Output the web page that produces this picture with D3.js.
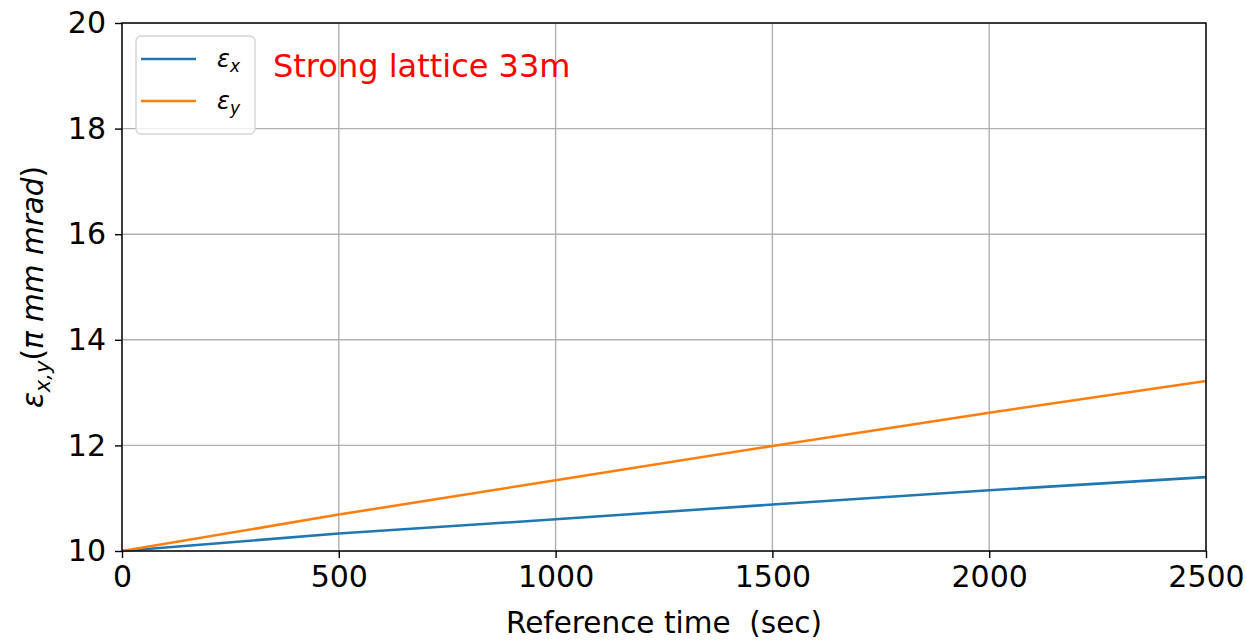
<!DOCTYPE html>
<html>
<head>
<meta charset="utf-8">
<script src="https://cdn.jsdelivr.net/npm/d3@7"></script>
<style>
  html, body { margin: 0; padding: 0; background: #fff; }
  svg { display: block; font-family: "DejaVu Sans", sans-serif; }
</style>
</head>
<body>
<svg id="chart" width="1246" height="642"></svg>
<script>
// Emittance growth over reference time
const times = [0, 500, 1000, 1500, 2000, 2500];
const epsX  = [10.0, 10.33, 10.60, 10.88, 11.15, 11.40];
const epsY  = [10.0, 10.69, 11.34, 11.99, 12.62, 13.22];
const xTicks = [0, 500, 1000, 1500, 2000, 2500];
const yTicks = [10, 12, 14, 16, 18, 20];
const seriesNames = ["x", "y"];
const seriesColors = ["#1f77b4", "#ff7f0e"];
const annotation = "Strong lattice 33m";

const margin = { left: 122, right: 40, top: 23, bottom: 91 };
const W = 1246, H = 642;
const svg = d3.select("#chart");

const x = d3.scaleLinear().domain([0, 2500]).range([margin.left, W - margin.right]);
const y = d3.scaleLinear().domain([10, 20]).range([H - margin.bottom, margin.top]);

// grid
const grid = svg.append("g");
grid.selectAll("line.gx").data(xTicks).join("line")
  .attr("x1", d => x(d)).attr("x2", d => x(d))
  .attr("y1", y(10)).attr("y2", y(20))
  .attr("stroke", "#b0b0b0").attr("stroke-width", 1.4);
grid.selectAll("line.gy").data(yTicks).join("line")
  .attr("y1", d => y(d)).attr("y2", d => y(d))
  .attr("x1", x(0)).attr("x2", x(2500))
  .attr("stroke", "#b0b0b0").attr("stroke-width", 1.4);

// series lines
const line = d3.line().x(d => x(d[0])).y(d => y(d[1]));
[epsX, epsY].forEach((vals, i) => {
  svg.append("path")
    .datum(times.map((t, j) => [t, vals[j]]))
    .attr("d", line)
    .attr("fill", "none")
    .attr("stroke", seriesColors[i])
    .attr("stroke-width", 2.6);
});

// axes
const xAxis = svg.append("g").attr("transform", `translate(0,${y(10)})`)
  .call(d3.axisBottom(x).tickValues(xTicks).tickFormat(d3.format("d")).tickSize(7).tickPadding(8));
const yAxis = svg.append("g").attr("transform", `translate(${x(0)},0)`)
  .call(d3.axisLeft(y).tickValues(yTicks).tickFormat(d3.format("d")).tickSize(7).tickPadding(9));
[xAxis, yAxis].forEach(g => {
  g.select(".domain").remove();
  g.selectAll(".tick line").attr("stroke", "#000").attr("stroke-width", 1.4);
  g.selectAll(".tick text").attr("font-family", "DejaVu Sans").attr("font-size", 30).attr("fill", "#000");
});

// frame
svg.append("rect")
  .attr("x", x(0)).attr("y", y(20))
  .attr("width", x(2500) - x(0)).attr("height", y(10) - y(20))
  .attr("fill", "none").attr("stroke", "#000").attr("stroke-width", 1.4);

// x label
svg.append("text")
  .attr("x", (x(0) + x(2500)) / 2).attr("y", 633)
  .attr("text-anchor", "middle").attr("font-size", 29.5).attr("fill", "#000")
  .attr("xml:space", "preserve")
  .text("Reference time  (sec)");

// y label
const yl = svg.append("text")
  .attr("transform", `translate(43,${(y(10) + y(20)) / 2}) rotate(-90)`)
  .attr("text-anchor", "middle").attr("font-size", 29.5).attr("fill", "#000")
  .attr("xml:space", "preserve");
yl.append("tspan").attr("font-style", "italic").text("ε");
yl.append("tspan").attr("font-style", "italic").attr("font-size", 21).attr("dy", 7).text("x,y");
yl.append("tspan").attr("dy", -7).text("(");
yl.append("tspan").attr("font-style", "italic").text("π mm mrad");
yl.append("tspan").text(")");

// legend
const lg = svg.append("g");
lg.append("rect")
  .attr("x", 136).attr("y", 36).attr("width", 119).attr("height", 98)
  .attr("rx", 5).attr("fill", "#fff").attr("fill-opacity", 0.8)
  .attr("stroke", "#d5d5d5").attr("stroke-width", 1.4);
seriesNames.forEach((n, i) => {
  const cy = 59 + i * 42;
  lg.append("line").attr("x1", 141).attr("x2", 196).attr("y1", cy).attr("y2", cy)
    .attr("stroke", seriesColors[i]).attr("stroke-width", 2.6);
  const t = lg.append("text").attr("x", 217).attr("y", cy + 8)
    .attr("font-size", 24).attr("font-style", "italic").attr("fill", "#000");
  t.append("tspan").text("ε");
  t.append("tspan").attr("font-size", 17).attr("dy", 5).text(n);
});

// annotation
svg.append("text")
  .attr("x", 273).attr("y", 77)
  .attr("font-size", 32).attr("fill", "#ff0000")
  .text(annotation);
</script>
</body>
</html>
